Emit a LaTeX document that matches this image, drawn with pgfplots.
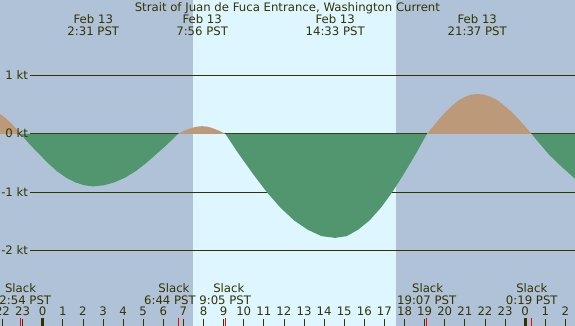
\documentclass[border=0pt]{standalone}
\usepackage{pgfplots}
\pgfplotsset{compat=1.18}
\usepackage{fontspec}
\setmainfont{DejaVu Sans}
\definecolor{night}{HTML}{B0C2D8}
\definecolor{day}{HTML}{DEF6FF}
\definecolor{ebb}{HTML}{52966F}
\definecolor{flood}{HTML}{BC9A79}
\definecolor{ink}{HTML}{333300}
\begin{document}
\begin{tikzpicture}
\begin{axis}[
  at={(0,0)}, anchor=south west,
  width=575pt, height=326pt, scale only axis,
  xmin=-2.124, xmax=26.48, ymin=-3.287, ymax=2.288,
  axis line style={draw=none},
  axis background/.style={fill=night},
  axis on top=true,
  ytick=\empty,
  xtick={-2,...,26},
  xticklabels={22,23,0,1,2,3,4,5,6,7,8,9,10,11,12,13,14,15,16,17,18,19,20,21,22,23,0,1,2},
  xtick pos=bottom, tick align=inside,
  major tick length=7pt,
  tick style={draw=ink, line width=0.8pt},
  xticklabel style={anchor=base, yshift=10pt, text=ink, font=\fontsize{11.7}{14}\selectfont},
  extra x ticks={-1.1,6.733,9.083,19.117,24.317},
  extra x tick labels={},
  extra x tick style={tick style={draw=red, line width=1pt}, major tick length=8pt},
  clip=true,
]
% daylight
\addplot[fill=day, draw=none] coordinates {(7.48,-3.287) (7.48,2.288) (17.58,2.288) (17.58,-3.287)} -- cycle;
% level lines
\addplot[draw=ink, line width=0.8pt] coordinates {(-0.63,1) (26.48,1)};
\addplot[draw=ink, line width=0.8pt] coordinates {(-0.63,0) (26.48,0)};
\addplot[draw=ink, line width=0.8pt] coordinates {(-0.63,-1) (26.48,-1)};
\addplot[draw=ink, line width=0.8pt] coordinates {(-0.63,-2) (26.48,-2)};
% flood (positive)
\addplot[fill=flood, draw=none] coordinates {(-2.124,0) (-2.124,0.34) (-1.85,0.27) (-1.6,0.19) (-1.35,0.10) (-1.1,0)} -- cycle;
\addplot[fill=flood, draw=none] coordinates {(6.733,0) (7.03,0.05) (7.33,0.09) (7.63,0.12) (7.93,0.13) (8.22,0.12) (8.5,0.09) (8.79,0.05) (9.083,0)} -- cycle;
\addplot[fill=flood, draw=none] coordinates {(19.117,0) (19.433,0.13) (19.745,0.26) (20.058,0.38) (20.37,0.48) (20.683,0.57) (20.995,0.63) (21.308,0.67) (21.62,0.68) (21.958,0.67) (22.295,0.63) (22.633,0.57) (22.97,0.48) (23.308,0.38) (23.645,0.26) (23.983,0.13) (24.317,0)} -- cycle;
% ebb (negative)
\addplot[fill=ebb, draw=none] coordinates {(-1.1,0) (-0.648,-0.18) (-0.195,-0.34) (0.258,-0.50) (0.71,-0.64) (1.163,-0.75) (1.615,-0.83) (2.068,-0.88) (2.52,-0.90) (3.046,-0.88) (3.573,-0.83) (4.099,-0.75) (4.625,-0.64) (5.151,-0.50) (5.678,-0.34) (6.204,-0.18) (6.733,0)} -- cycle;
\addplot[fill=ebb, draw=none] coordinates {(9.083,0) (9.764,-0.35) (10.448,-0.68) (11.131,-0.99) (11.815,-1.26) (12.499,-1.48) (13.183,-1.64) (13.866,-1.75) (14.55,-1.78) (15.121,-1.75) (15.693,-1.64) (16.264,-1.48) (16.835,-1.26) (17.406,-0.99) (17.978,-0.68) (18.549,-0.35) (19.117,0)} -- cycle;
\addplot[fill=ebb, draw=none] coordinates {(24.317,0) (24.6,-0.12) (24.9,-0.24) (25.2,-0.36) (25.5,-0.46) (25.8,-0.56) (26.1,-0.65) (26.48,-0.77) (26.48,0)} -- cycle;
% midnight ticks
\addplot[draw=ink, line width=2.8pt] coordinates {(0,-3.287) (0,-3.15)};
\addplot[draw=ink, line width=2.8pt] coordinates {(24,-3.287) (24,-3.15)};
% labels
\begin{scope}[every node/.style={text=ink, font=\fontsize{11.7}{14}\selectfont, inner sep=0pt}]
\node[anchor=base east] at (axis cs:-0.72,0.93) {1 kt};
\node[anchor=base east] at (axis cs:-0.72,-0.07) {0 kt};
\node[anchor=base east] at (axis cs:-0.72,-1.07) {-1 kt};
\node[anchor=base east] at (axis cs:-0.72,-2.07) {-2 kt};
\node[anchor=base] at (axis cs:12.17,2.083) {Strait of Juan de Fuca Entrance, Washington Current};
\node[anchor=base] at (axis cs:2.517,1.878) {Feb 13};
\node[anchor=base] at (axis cs:2.517,1.673) {2:31 PST};
\node[anchor=base] at (axis cs:7.933,1.878) {Feb 13};
\node[anchor=base] at (axis cs:7.933,1.673) {7:56 PST};
\node[anchor=base] at (axis cs:14.55,1.878) {Feb 13};
\node[anchor=base] at (axis cs:14.55,1.673) {14:33 PST};
\node[anchor=base] at (axis cs:21.617,1.878) {Feb 13};
\node[anchor=base] at (axis cs:21.617,1.673) {21:37 PST};
\node[anchor=base] at (axis cs:-1.1,-2.706) {Slack};
\node[anchor=base] at (axis cs:-1.05,-2.911) {22:54 PST};
\node[anchor=base] at (axis cs:6.53,-2.706) {Slack};
\node[anchor=base] at (axis cs:6.33,-2.911) {6:44 PST};
\node[anchor=base] at (axis cs:9.26,-2.706) {Slack};
\node[anchor=base] at (axis cs:9.08,-2.911) {9:05 PST};
\node[anchor=base] at (axis cs:19.15,-2.706) {Slack};
\node[anchor=base] at (axis cs:19.1,-2.911) {19:07 PST};
\node[anchor=base] at (axis cs:24.33,-2.706) {Slack};
\node[anchor=base] at (axis cs:24.33,-2.911) {0:19 PST};
\end{scope}
\end{axis}
\pgfresetboundingbox
\path[use as bounding box] (0,0) rectangle (575pt,326pt);
\end{tikzpicture}
\end{document}
